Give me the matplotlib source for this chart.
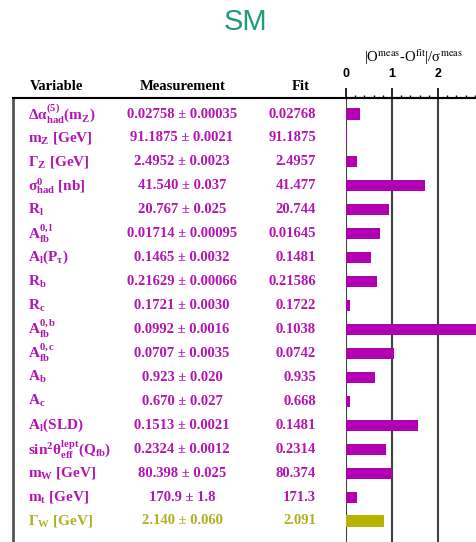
import numpy as np
import matplotlib.pyplot as plt
from matplotlib.transforms import blended_transform_factory
from matplotlib.ticker import MultipleLocator

plt.rcParams["font.family"] = ["Liberation Serif", "DejaVu Serif"]
plt.rcParams["mathtext.fontset"] = "custom"
plt.rcParams["mathtext.rm"] = "Liberation Serif:bold"
plt.rcParams["mathtext.it"] = "Liberation Serif:bold"
plt.rcParams["mathtext.bf"] = "Liberation Serif:bold"

labels = [
    "Δα$^{(5)}_{\\rm had}$(m$_{\\rm Z}$)",
    "m$_{\\rm Z}$ [GeV]",
    "Γ$_{\\rm Z}$ [GeV]",
    "σ$^{0}_{\\rm had}$ [nb]",
    "R$_{\\rm l}$",
    "A$^{0,\\rm l}_{\\rm fb}$",
    "A$_{\\rm l}$(P$_{\\tau}$)",
    "R$_{\\rm b}$",
    "R$_{\\rm c}$",
    "A$^{0,\\rm b}_{\\rm fb}$",
    "A$^{0,\\rm c}_{\\rm fb}$",
    "A$_{\\rm b}$",
    "A$_{\\rm c}$",
    "A$_{\\rm l}$(SLD)",
    "sin$^{2}$θ$^{\\rm lept}_{\\rm eff}$(Q$_{\\rm fb}$)",
    "m$_{\\rm W}$ [GeV]",
    "m$_{\\rm t}$ [GeV]",
    "Γ$_{\\rm W}$ [GeV]",
]
measurement = ["0.02758", "91.1875", "2.4952", "41.540", "20.767", "0.01714",
               "0.1465", "0.21629", "0.1721", "0.0992", "0.0707", "0.923",
               "0.670", "0.1513", "0.2324", "80.398", "170.9", "2.140"]
error = ["0.00035", "0.0021", "0.0023", "0.037", "0.025", "0.00095",
         "0.0032", "0.00066", "0.0030", "0.0016", "0.0035", "0.020",
         "0.027", "0.0021", "0.0012", "0.025", "1.8", "0.060"]
fit = ["0.02768", "91.1875", "2.4957", "41.477", "20.744", "0.01645",
       "0.1481", "0.21586", "0.1722", "0.1038", "0.0742", "0.935",
       "0.668", "0.1481", "0.2314", "80.374", "171.3", "2.091"]
pull = [0.30, 0.02, 0.24, 1.72, 0.93, 0.74, 0.54, 0.67, 0.09, 2.90, 1.05,
        0.62, 0.09, 1.56, 0.88, 1.00, 0.23, 0.83]

magenta = "#b000b0"
olive = "#b4b400"
colors = [magenta] * 17 + [olive]
text_colors = ["#b414b4"] * 17 + ["#b0b020"]

W, H = 477, 542
fig = plt.figure(figsize=(W / 100, H / 100), dpi=100)

# left frame around the table
frame = fig.add_axes([13 / W, 0, 1 - 13 / W, 1 - 98 / H])
frame.set_xticks([])
frame.set_yticks([])
frame.patch.set_alpha(0)
for s in ["right", "bottom"]:
    frame.spines[s].set_visible(False)
frame.spines["left"].set_color("#555555")
frame.spines["left"].set_linewidth(2)
frame.spines["top"].set_linewidth(1.5)

# pull bars
ax = fig.add_axes([346 / W, 0, 1 - 346 / W, 1 - 98 / H])
ax.patch.set_alpha(0)
y = np.arange(len(labels))
ax.barh(y, pull, height=0.46, color=colors, zorder=3)
ax.set_xlim(0, 131 / 46)
ax.set_ylim(17 + 21 / 23.94, -16 / 23.94)
ax.set_yticks([])
ax.xaxis.set_major_locator(MultipleLocator(1))
ax.xaxis.set_minor_locator(MultipleLocator(0.2))
ax.tick_params(axis="x", which="both", top=True, bottom=False,
               labeltop=True, labelbottom=False, direction="out")
ax.tick_params(axis="x", which="major", length=7.2, width=1.2, pad=5.5,
               labelsize=9)
ax.tick_params(axis="x", which="minor", length=2.3, width=1.0)
for t in ax.get_xticklabels():
    t.set_family(["Liberation Sans", "DejaVu Sans"])
    t.set_fontweight("bold")
ax.grid(axis="x", which="major", color="#404040", linewidth=1.5, zorder=1)
for s in ["left", "right", "bottom"]:
    ax.spines[s].set_visible(False)
ax.spines["top"].set_linewidth(1.5)

tr = blended_transform_factory(fig.transFigure, ax.transData)
for i in range(len(labels)):
    ax.text(28 / W, i, labels[i], transform=tr, ha="left", va="center",
            fontsize=11, fontweight="bold", color=text_colors[i], clip_on=False)
    ax.text(182 / W, i, measurement[i] + " ± " + error[i], transform=tr,
            ha="center", va="center", fontsize=10.5, fontweight="bold",
            color=text_colors[i], clip_on=False)
    ax.text(316 / W, i, fit[i], transform=tr, ha="right", va="center",
            fontsize=10.5, fontweight="bold", color=text_colors[i],
            clip_on=False)

head_y = (87 - 114) / 23.94
ax.text(57 / W, head_y, "Variable", transform=tr, ha="center", va="center",
        fontsize=10.5, fontweight="bold", clip_on=False)
ax.text(183 / W, head_y, "Measurement", transform=tr, ha="center",
        va="center", fontsize=10.5, fontweight="bold", clip_on=False)
ax.text(301 / W, head_y, "Fit", transform=tr, ha="center", va="center",
        fontsize=10.5, fontweight="bold", clip_on=False)

fig.text(413 / W, 1 - 57 / H,
         "|O$^{\\rm meas}$-O$^{\\rm fit}$|/σ$^{\\rm meas}$",
         ha="center", va="center", fontsize=10.5, math_fontfamily="stix")
fig.text(246 / W, 1 - 22 / H, "SM", ha="center", va="center", fontsize=21,
         family=["Liberation Sans", "DejaVu Sans"], color="#1f9a7c")

fig.savefig("out.png", dpi=100)
